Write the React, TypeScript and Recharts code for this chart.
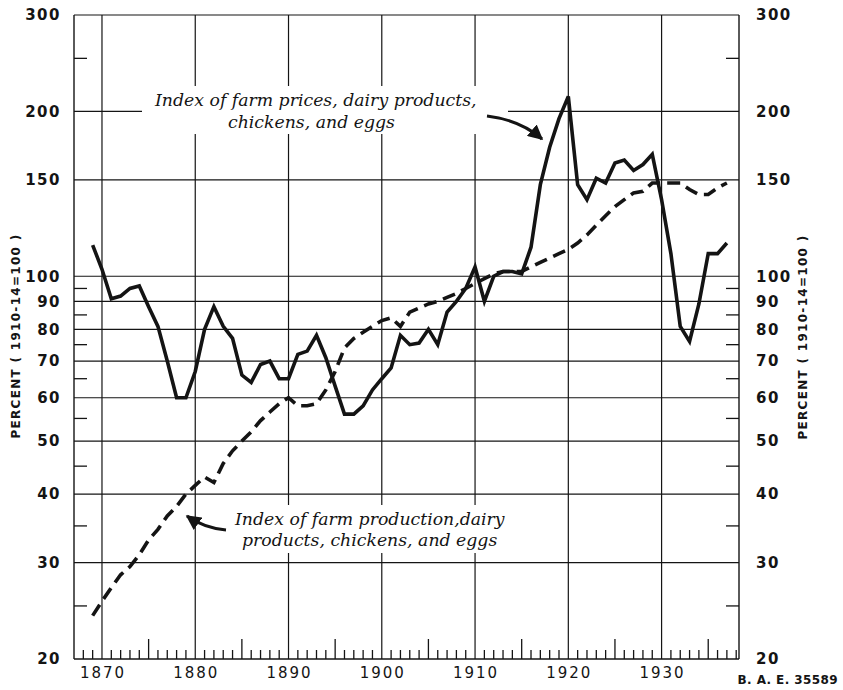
import React from 'react';
import { LineChart, Line, XAxis, YAxis, CartesianGrid } from 'recharts';

const years = [
  1869, 1870, 1871, 1872, 1873, 1874, 1875, 1876, 1877, 1878, 1879,
  1880, 1881, 1882, 1883, 1884, 1885, 1886, 1887, 1888, 1889,
  1890, 1891, 1892, 1893, 1894, 1895, 1896, 1897, 1898, 1899,
  1900, 1901, 1902, 1903, 1904, 1905, 1906, 1907, 1908, 1909,
  1910, 1911, 1912, 1913, 1914, 1915, 1916, 1917, 1918, 1919,
  1920, 1921, 1922, 1923, 1924, 1925, 1926, 1927, 1928, 1929,
  1930, 1931, 1932, 1933, 1934, 1935, 1936, 1937,
];

// Index of farm prices, dairy products, chickens, and eggs (solid)
const farmPrices = [
  114, 103, 91, 92, 95, 96, 88, 81, 70, 60, 60,
  67, 80, 88, 81, 77, 66, 64, 69, 70, 65,
  65, 72, 73, 78, 71, 63, 56, 56, 58, 62,
  65, 68, 78, 75, 75.5, 80, 75, 86, 90, 95,
  104, 90, 100, 102, 102, 101, 113, 147, 172, 194,
  213, 147, 138, 151, 148, 161, 163, 156, 160, 167,
  138, 110, 81, 76, 89, 110, 110, 115,
];

// Index of farm production, dairy products, chickens, and eggs (dashed)
const farmProduction = [
  24, 25.5, 27, 28.5, 29.5, 31, 33, 34.5, 36.5, 38, 40,
  41.5, 43, 42, 45.5, 48, 50, 52, 54.5, 56.5, 58.5,
  60, 58, 58, 58.5, 62, 67, 74, 77, 79, 81,
  83, 84, 81, 86, 87.5, 89, 90, 91.5, 93, 95,
  97, 99, 101, 102, 102, 102, 104, 106, 108, 110,
  112, 115, 119, 124, 129, 134, 138, 142, 143, 148,
  148, 148, 148, 144, 141, 141, 145, 148,
];

const majorYTicks = [20, 30, 40, 50, 60, 70, 80, 90, 100, 150, 200, 300];
const minorYTicks = [25, 35, 45, 55, 65, 75, 85, 95, 250];
const gridYValues = [30, 40, 50, 60, 70, 80, 90, 100, 150, 200, 300];
const decadeTicks = [1870, 1880, 1890, 1900, 1910, 1920, 1930];
const yearTicks = [
  1868, 1869, 1870, 1871, 1872, 1873, 1874, 1875, 1876, 1877, 1878, 1879,
  1880, 1881, 1882, 1883, 1884, 1885, 1886, 1887, 1888, 1889,
  1890, 1891, 1892, 1893, 1894, 1895, 1896, 1897, 1898, 1899,
  1900, 1901, 1902, 1903, 1904, 1905, 1906, 1907, 1908, 1909,
  1910, 1911, 1912, 1913, 1914, 1915, 1916, 1917, 1918, 1919,
  1920, 1921, 1922, 1923, 1924, 1925, 1926, 1927, 1928, 1929,
  1930, 1931, 1932, 1933, 1934, 1935, 1936, 1937, 1938,
];

const data = years.map((year, i) => ({
  year,
  prices: farmPrices[i],
  production: farmProduction[i],
}));

const W = 843;
const H = 690;
const PL = 74;
const PR = 739;
const PT = 15;
const PB = 659;
const INK = '#141414';

const yTicksAll = [...majorYTicks, ...minorYTicks].sort((a, b) => a - b);

const XTick = (props: any) => {
  const { x, payload } = props;
  const v = payload.value;
  const decade = v % 10 === 0;
  const five = v % 5 === 0;
  const len = decade ? 0 : five ? 20 : 9;
  return (
    <g>
      {len > 0 && (
        <line x1={x} x2={x} y1={PB} y2={PB - len} stroke={INK} strokeWidth={1.3} />
      )}
      {decade && (
        <text
          x={x + 1}
          y={PB + 14}
          dy="0.35em"
          textAnchor="middle"
          fontFamily="DejaVu Sans"
          fontSize={15}
          letterSpacing={2}
          fill={INK}
        >
          {v}
        </text>
      )}
    </g>
  );
};

const LeftTick = (props: any) => {
  const { y, payload } = props;
  const v = payload.value;
  if (minorYTicks.includes(v)) {
    return <line x1={PL} x2={PL + 13} y1={y} y2={y} stroke={INK} strokeWidth={1.3} />;
  }
  return (
    <text
      x={PL - 13}
      y={y}
      dy="0.35em"
      textAnchor="end"
      fontFamily="DejaVu Sans"
      fontWeight="bold"
      fontSize={15}
      letterSpacing={1.5}
      fill={INK}
    >
      {v}
    </text>
  );
};

const RightTick = (props: any) => {
  const { y, payload } = props;
  const v = payload.value;
  if (minorYTicks.includes(v)) {
    return <line x1={PR - 13} x2={PR} y1={y} y2={y} stroke={INK} strokeWidth={1.3} />;
  }
  return (
    <text
      x={PR + 17}
      y={y}
      dy="0.35em"
      textAnchor="start"
      fontFamily="DejaVu Sans"
      fontWeight="bold"
      fontSize={15}
      letterSpacing={1.5}
      fill={INK}
    >
      {v}
    </text>
  );
};

const serifItalic = {
  fontFamily: 'DejaVu Serif',
  fontStyle: 'italic' as const,
  fontSize: 17.3,
  fill: INK,
};

export default function App() {
  return (
    <div style={{ position: 'absolute', left: 0, top: 0, width: W, height: H, background: '#fff' }}>
      <LineChart
        width={W}
        height={H}
        data={data}
        margin={{ top: PT, right: W - PR - 60, bottom: H - PB - 30, left: PL - 60 }}
      >
        <CartesianGrid
          yAxisId="left"
          horizontalValues={gridYValues}
          verticalValues={decadeTicks}
          stroke={INK}
          strokeWidth={1.2}
          strokeDasharray=""
        />
        <XAxis
          dataKey="year"
          type="number"
          domain={[1867, 1938.3]}
          ticks={yearTicks}
          interval={0}
          tick={<XTick />}
          tickLine={false}
          axisLine={{ stroke: INK, strokeWidth: 1.4 }}
          height={30}
          allowDataOverflow
        />
        <YAxis
          yAxisId="left"
          type="number"
          scale="log"
          domain={[20, 300]}
          ticks={yTicksAll}
          interval={0}
          tick={<LeftTick />}
          tickLine={false}
          axisLine={{ stroke: INK, strokeWidth: 1.4 }}
          width={60}
          allowDataOverflow
        />
        <YAxis
          yAxisId="right"
          orientation="right"
          type="number"
          scale="log"
          domain={[20, 300]}
          ticks={yTicksAll}
          interval={0}
          tick={<RightTick />}
          tickLine={false}
          axisLine={{ stroke: INK, strokeWidth: 1.4 }}
          width={60}
          allowDataOverflow
        />
        <Line
          yAxisId="left"
          dataKey="production"
          type="linear"
          stroke={INK}
          strokeWidth={3.6}
          strokeDasharray="13 7"
          dot={false}
          isAnimationActive={false}
        />
        <Line
          yAxisId="left"
          dataKey="prices"
          type="linear"
          stroke={INK}
          strokeWidth={3.6}
          strokeLinejoin="miter"
          dot={false}
          isAnimationActive={false}
        />
      </LineChart>
      <svg
        width={W}
        height={H}
        style={{ position: 'absolute', left: 0, top: 0, pointerEvents: 'none' }}
      >
        <defs>
          <marker id="ah" viewBox="0 0 10 10" refX="9" refY="5" markerWidth="5" markerHeight="5" orient="auto">
            <path d="M0,0 L10,5 L0,10 z" fill={INK} />
          </marker>
        </defs>
        <rect x={142} y={86} width={366} height={48} fill="#fff" />
        <text x={155} y={106} {...serifItalic}>Index of farm prices, dairy products,</text>
        <text x={228} y={128} {...serifItalic}>chickens, and eggs</text>
        <path d="M487,116 Q520,120 542,139" fill="none" stroke={INK} strokeWidth={3} markerEnd="url(#ah)" />

        <rect x={228} y={505} width={287} height={48} fill="#fff" />
        <text x={235} y={525} {...serifItalic}>Index of farm production,dairy</text>
        <text x={242} y={546} {...serifItalic}>products, chickens, and eggs</text>
        <path d="M226,530 Q204,528 187,516" fill="none" stroke={INK} strokeWidth={3} markerEnd="url(#ah)" />

        <text
          transform="translate(16,336) rotate(-90)"
          textAnchor="middle"
          dy="0.35em"
          fontFamily="DejaVu Sans"
          fontWeight="bold"
          fontSize={12}
          letterSpacing={1.3}
          fill={INK}
        >
          PERCENT ( 1910-14=100 )
        </text>
        <text
          transform="translate(803,337) rotate(-90)"
          textAnchor="middle"
          dy="0.35em"
          fontFamily="DejaVu Sans"
          fontWeight="bold"
          fontSize={12}
          letterSpacing={1.3}
          fill={INK}
        >
          PERCENT ( 1910-14=100 )
        </text>
        <text
          x={838}
          y={680}
          dy="0.35em"
          textAnchor="end"
          fontFamily="DejaVu Sans"
          fontWeight="bold"
          fontSize={12}
          letterSpacing={0.4}
          fill={INK}
        >
          B. A. E. 35589
        </text>
      </svg>
    </div>
  );
}
